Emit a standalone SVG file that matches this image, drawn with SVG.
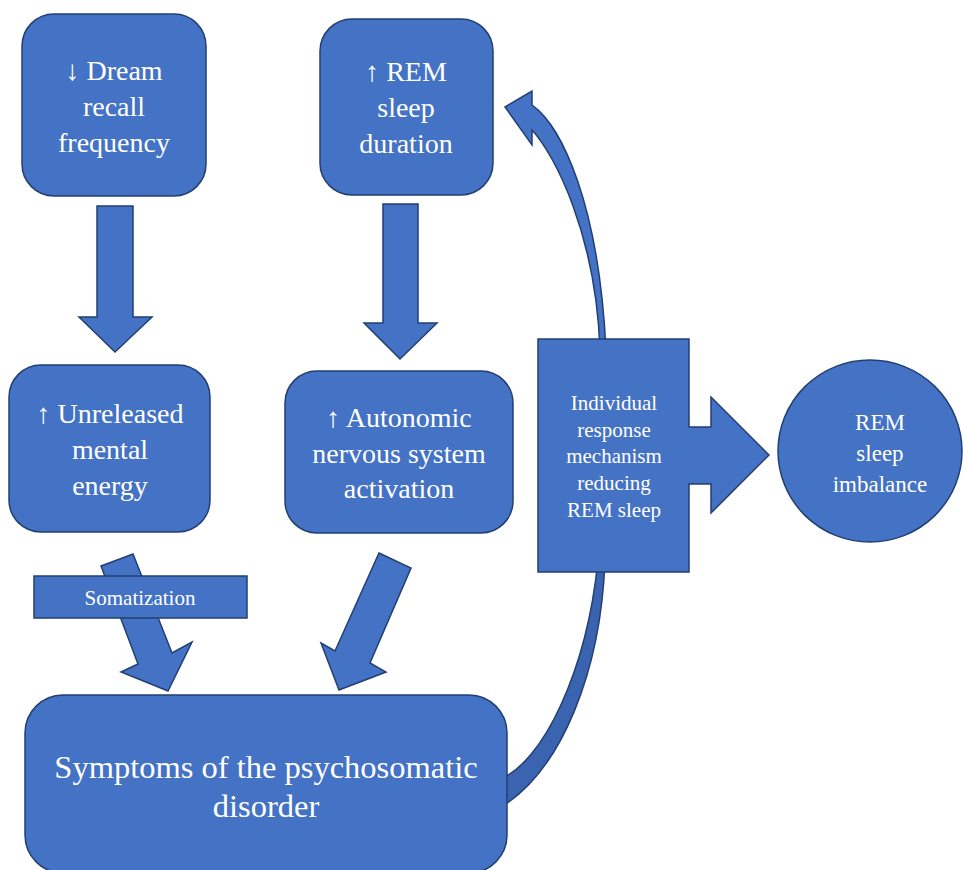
<svg xmlns="http://www.w3.org/2000/svg" width="963" height="870" viewBox="0 0 963 870">
<style>
.s{fill:#4472C4;stroke:#233F72;stroke-width:1.5;stroke-linejoin:miter}
.dk{fill:#3A64B0;stroke:#233F72;stroke-width:1.5}
.t{fill:#fff;font-family:"Liberation Serif","Times New Roman",serif;text-anchor:middle}
.f28{font-size:28px}
.f32{font-size:32.5px}
.f21{font-size:21px}
.f23{font-size:23px}
</style>
<rect width="963" height="870" fill="#fff"/>
<g id="connectors">
  <path class="dk" d="M605,560 C601,670 562,772 498,809 L498,780 C543,764 587,670 598,560 Z"/>
  <path class="s" d="M505,107 L532,91 L532,105 C562,126 599,205 606,350 L600,350 C596,235 555,155 532,130 L532,145 Z"/>
  <polygon class="s" points="97,206 133,206 133,317 152,317 115,352 79,317 97,317"/>
  <polygon class="s" points="383,204 418,204 418,323 437,323 400,359 364,323 383,323"/>
  <polygon class="s" points="101,566 133,554 172,653 192,642 168,691 121,672 138,664"/>
  <polygon class="s" points="379,553 411,568 370,663 386,672 339,690 321,643 335,651"/>
</g>
<g id="dream">
  <rect class="s" x="22" y="14" width="184" height="182" rx="32"/>
  <text class="t f28"><tspan x="114" y="80">↓ Dream</tspan><tspan x="114" y="116">recall</tspan><tspan x="114" y="152">frequency</tspan></text>
</g>
<g id="remdur">
  <rect class="s" x="320" y="19" width="173" height="176" rx="32"/>
  <text class="t f28"><tspan x="406" y="81">↑ REM</tspan><tspan x="406" y="117">sleep</tspan><tspan x="406" y="153">duration</tspan></text>
</g>
<g id="unreleased">
  <rect class="s" x="9" y="365" width="201" height="167" rx="32"/>
  <text class="t f28"><tspan x="110" y="423">↑ Unreleased</tspan><tspan x="110" y="459">mental</tspan><tspan x="110" y="495">energy</tspan></text>
</g>
<g id="autonomic">
  <rect class="s" x="285" y="371" width="228" height="162" rx="32"/>
  <text class="t f28"><tspan x="399" y="427">↑ Autonomic</tspan><tspan x="399" y="463">nervous system</tspan><tspan x="399" y="498">activation</tspan></text>
</g>
<g id="somatization">
  <rect class="s" x="34" y="576" width="213" height="42"/>
  <text class="t f21" x="140" y="605">Somatization</text>
</g>
<g id="symptoms">
  <rect class="s" x="25" y="695" width="482" height="178" rx="38"/>
  <text class="t f32"><tspan x="266" y="778">Symptoms of the psychosomatic</tspan><tspan x="266" y="817">disorder</tspan></text>
</g>
<g id="response">
  <path class="s" d="M538,339 H689 V427 H711 V397 L769,455 L711,513 V484 H689 V572 H538 Z"/>
  <text class="t f21"><tspan x="614" y="410">Individual</tspan><tspan x="614" y="437">response</tspan><tspan x="614" y="463">mechanism</tspan><tspan x="614" y="490">reducing</tspan><tspan x="614" y="517">REM sleep</tspan></text>
</g>
<g id="imbalance">
  <ellipse class="s" cx="870" cy="451" rx="92" ry="91"/>
  <text class="t f23"><tspan x="880" y="430">REM</tspan><tspan x="880" y="461">sleep</tspan><tspan x="880" y="492">imbalance</tspan></text>
</g>
</svg>
